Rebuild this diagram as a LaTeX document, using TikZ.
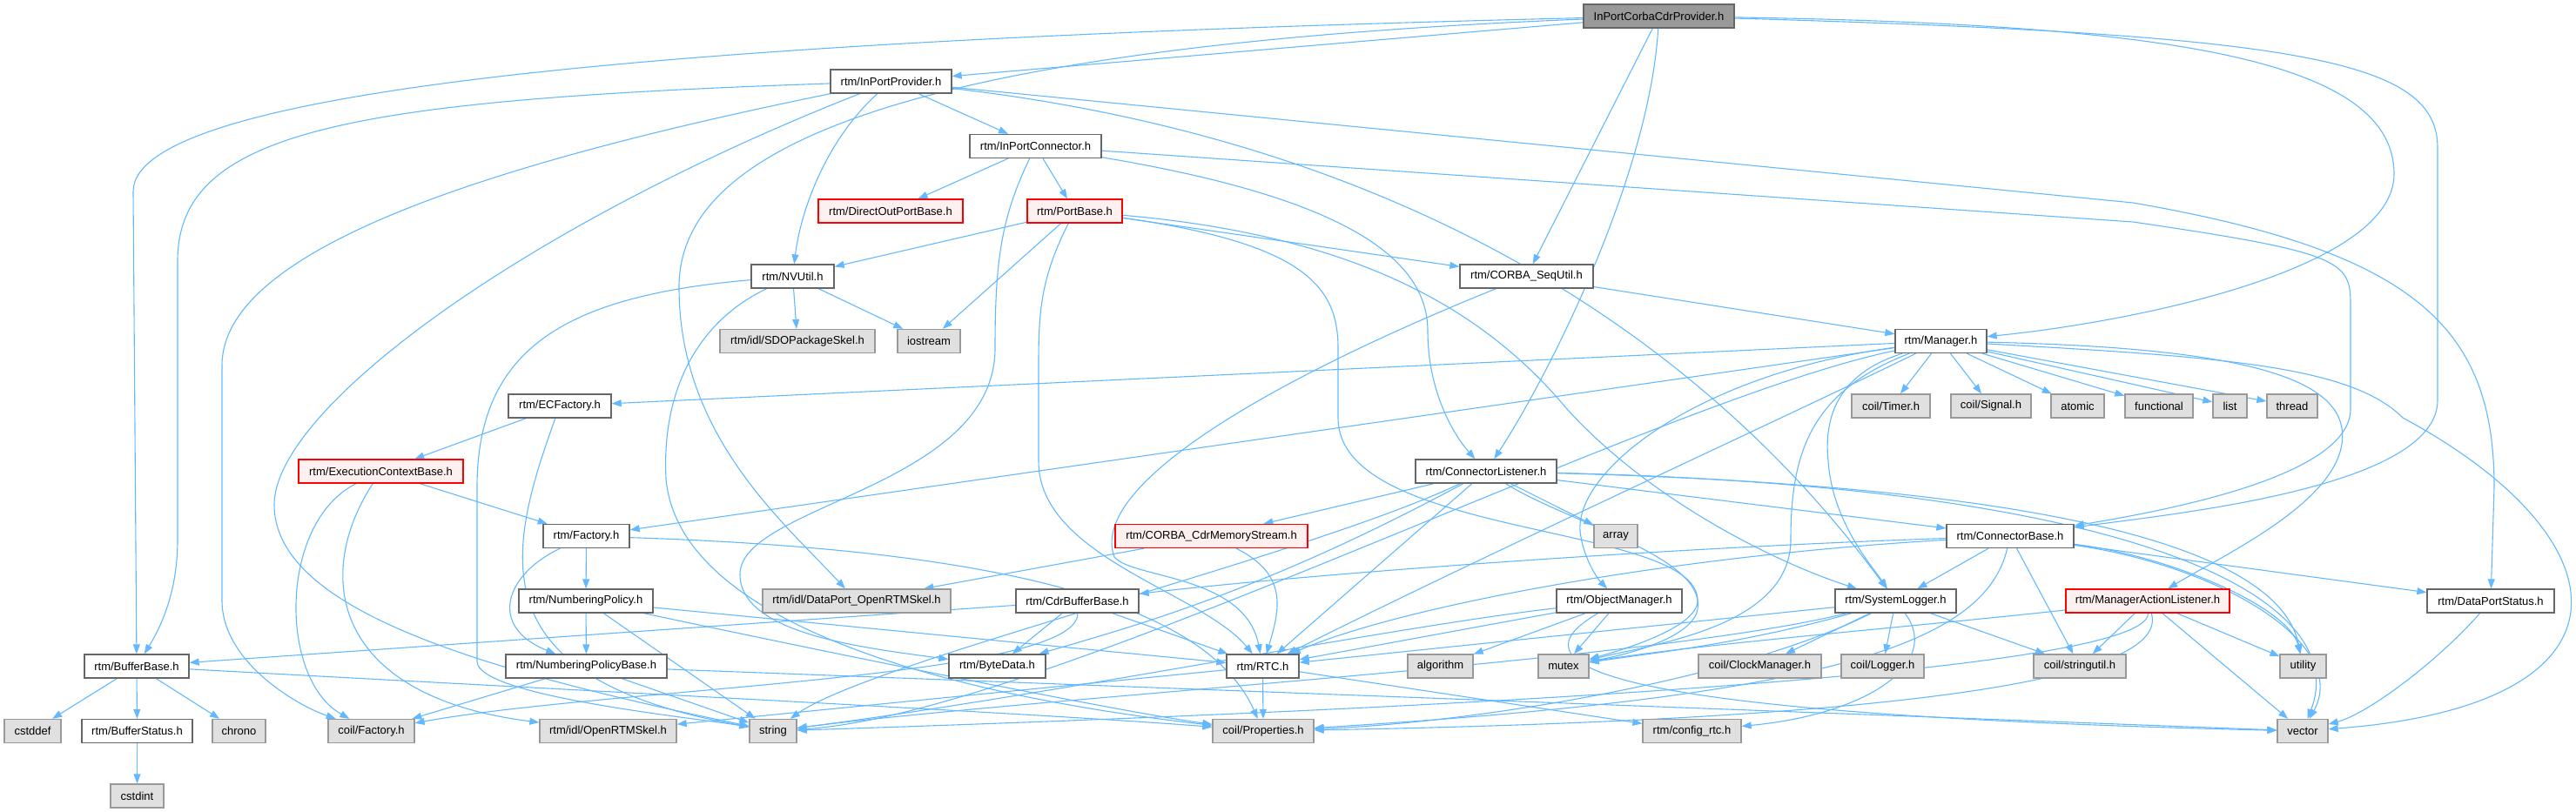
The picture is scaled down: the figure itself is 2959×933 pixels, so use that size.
\documentclass[tikz,border=0pt]{standalone}
\usepackage{fontspec}
\setmainfont{Liberation Sans}
\usepackage{xcolor}
\usepackage{tikz}
\usetikzlibrary{arrows.meta,backgrounds}

\definecolor{edgeblue}{HTML}{63B8FF}
\definecolor{boxgray}{HTML}{666666}
\definecolor{sysfill}{HTML}{E0E0E0}
\definecolor{sysline}{HTML}{999999}
\definecolor{redfill}{HTML}{FFF0F0}

\begin{document}
\begin{tikzpicture}[x=1pt,y=-1pt,
  hdr/.style={draw=boxgray,line width=1.3pt,fill=white,minimum height=27pt,inner sep=0pt,
    font=\fontsize{13}{15}\selectfont},
  rootbox/.style={hdr,fill=sysline},
  sysbox/.style={hdr,draw=sysline,fill=sysfill},
  redbox/.style={hdr,draw=red,fill=redfill},
  dep/.style={draw=edgeblue,line width=1.1pt,-{Triangle[length=11pt,width=8pt]}}]
            \useasboundingbox (0,0) rectangle (2959,933);

            \node[rootbox,minimum width=173pt] at (1905.5,18.5) (root) {InPortCorbaCdrProvider.h};
            \node[hdr,minimum width=139pt] at (1023.5,93.5) (ipp) {rtm/InPortProvider.h};
            \node[hdr,minimum width=151pt] at (1189.5,168) (ipc) {rtm/InPortConnector.h};
            \node[redbox,minimum width=166pt] at (1023,242.5) (dopb) {rtm/DirectOutPortBase.h};
            \node[redbox,minimum width=109pt] at (1234.5,242.5) (pb) {rtm/PortBase.h};
            \node[hdr,minimum width=95pt] at (910.5,317.5) (nvu) {rtm/NVUtil.h};
            \node[sysbox,minimum width=178pt] at (916,392) (sdo) {rtm/idl/SDOPackageSkel.h};
            \node[sysbox,minimum width=72pt] at (1067,392) (ios) {iostream};
            \node[hdr,minimum width=153pt] at (1753.5,317.5) (squ) {rtm/CORBA\_SeqUtil.h};
            \node[hdr,minimum width=105pt] at (2229.5,392) (mgr) {rtm/Manager.h};
            \node[sysbox,minimum width=90pt] at (2172,466.5) (timer) {coil/Timer.h};
            \node[sysbox,minimum width=92pt] at (2287,466.5) (signal) {coil/Signal.h};
            \node[sysbox,minimum width=61pt] at (2386.5,466.5) (atomic) {atomic};
            \node[sysbox,minimum width=78pt] at (2480,466.5) (func) {functional};
            \node[sysbox,minimum width=39pt] at (2561.5,466.5) (list) {list};
            \node[sysbox,minimum width=58pt] at (2633,466.5) (thread) {thread};
            \node[hdr,minimum width=118pt] at (643,466.5) (ecf) {rtm/ECFactory.h};
            \node[redbox,minimum width=189pt] at (437.5,541.5) (ecb) {rtm/ExecutionContextBase.h};
            \node[hdr,minimum width=99pt] at (673.5,616) (fac) {rtm/Factory.h};
            \node[hdr,minimum width=154pt] at (673,690.5) (nump) {rtm/NumberingPolicy.h};
            \node[hdr,minimum width=185pt] at (673.5,765.5) (numpb) {rtm/NumberingPolicyBase.h};
            \node[sysbox,minimum width=216pt] at (984,690.5) (dpskel) {rtm/idl/DataPort\_OpenRTMSkel.h};
            \node[hdr,minimum width=120pt] at (157,765.5) (bufb) {rtm/BufferBase.h};
            \node[sysbox,minimum width=65pt] at (37.5,840) (cstddef) {cstddef};
            \node[hdr,minimum width=127pt] at (157.5,840) (bufst) {rtm/BufferStatus.h};
            \node[sysbox,minimum width=61pt] at (274.5,840) (chrono) {chrono};
            \node[sysbox,minimum width=61pt] at (157.5,914.5) (cstdint) {cstdint};
            \node[sysbox,minimum width=99pt] at (426.5,840) (cfac) {coil/Factory.h};
            \node[sysbox,minimum width=157pt] at (698.5,840) (orskel) {rtm/idl/OpenRTMSkel.h};
            \node[sysbox,minimum width=54pt] at (888,840) (string) {string};
            \node[hdr,minimum width=162pt] at (1707,541.5) (cl) {rtm/ConnectorListener.h};
            \node[redbox,minimum width=221pt] at (1391.5,616) (cdrms) {rtm/CORBA\_CdrMemoryStream.h};
            \node[sysbox,minimum width=50pt] at (1856,616) (array) {array};
            \node[hdr,minimum width=141pt] at (1237.5,690.5) (cdrbb) {rtm/CdrBufferBase.h};
            \node[hdr,minimum width=111pt] at (1145.5,765.5) (bytedata) {rtm/ByteData.h};
            \node[hdr,minimum width=83pt] at (1450.5,765.5) (rtc) {rtm/RTC.h};
            \node[sysbox,minimum width=116pt] at (1451,840) (props) {coil/Properties.h};
            \node[hdr,minimum width=144pt] at (1860,690.5) (objm) {rtm/ObjectManager.h};
            \node[sysbox,minimum width=75pt] at (1654.5,765.5) (algo) {algorithm};
            \node[sysbox,minimum width=58pt] at (1796,765.5) (mutex) {mutex};
            \node[sysbox,minimum width=141pt] at (2021.5,765.5) (clock) {coil/ClockManager.h};
            \node[sysbox,minimum width=95pt] at (2162.5,765.5) (logger) {coil/Logger.h};
            \node[sysbox,minimum width=106pt] at (2389,765.5) (strutil) {coil/stringutil.h};
            \node[sysbox,minimum width=113pt] at (1943.5,840) (config) {rtm/config\_rtc.h};
            \node[hdr,minimum width=146pt] at (2309,616) (cb) {rtm/ConnectorBase.h};
            \node[hdr,minimum width=139pt] at (2177.5,690.5) (syslog) {rtm/SystemLogger.h};
            \node[redbox,minimum width=188pt] at (2467,690.5) (mal) {rtm/ManagerActionListener.h};
            \node[sysbox,minimum width=53pt] at (2645.5,765.5) (utility) {utility};
            \node[sysbox,minimum width=58pt] at (2645,840) (vector) {vector};
            \node[hdr,minimum width=146pt] at (2861,690.5) (dps) {rtm/DataPortStatus.h};

            \begin{scope}[on background layer]
            \draw[dep] (root) -- (ipp);
            \draw[dep] (root) -- (squ);
            \draw[dep] (root) .. controls (800,45) and (153,100) .. (153,220) -- (bufb);
            \draw[dep] (root) .. controls (1000,55) and (780,180) .. (780,330) .. controls (780,500) and (900,600) .. (dpskel);
            \draw[dep] (root) .. controls (1895,200) and (1780,430) .. (cl);
            \draw[dep] (root) .. controls (2500,28) and (2750,70) .. (2750,200) .. controls (2750,310) and (2450,370) .. (mgr);
            \draw[dep] (root) .. controls (2650,40) and (2800,70) .. (2800,170) -- (2800,460) .. controls (2800,560) and (2500,590) .. (cb);

            \draw[dep] (ipp) -- (ipc);
            \draw[dep] (ipp) .. controls (950,160) and (920,240) .. (nvu);
            \draw[dep] (ipp) .. controls (400,115) and (204,150) .. (204,300) -- (204,620) .. controls (204,680) and (185,720) .. (bufb);
            \draw[dep] (ipp) .. controls (500,200) and (255,300) .. (255,420) -- (255,690) .. controls (255,760) and (340,810) .. (cfac);
            \draw[dep] (ipp) .. controls (600,260) and (315,470) .. (315,580) .. controls (315,700) and (550,770) .. (string);
            \draw[dep] (ipp) -- (2450,233) .. controls (2780,290) and (2865,380) .. (2865,560) -- (dps);
            \draw[dep] (ipp) .. controls (1600,160) and (1950,380) .. (syslog);

            \draw[dep] (ipc) -- (dopb);
            \draw[dep] (ipc) -- (pb);
            \draw[dep] (ipc) .. controls (1150,250) and (1143,300) .. (1143,400) .. controls (1143,560) and (850,580) .. (850,660) .. controls (850,730) and (1000,745) .. (bytedata);
            \draw[dep] (ipc) .. controls (1500,220) and (1640,280) .. (1640,380) .. controls (1640,450) and (1670,500) .. (cl);
            \draw[dep] (ipc) -- (2450,255) .. controls (2690,290) and (2700,300) .. (2700,350) -- (2700,470) .. controls (2700,545) and (2500,585) .. (cb);

            \draw[dep] (pb) -- (nvu);
            \draw[dep] (pb) -- (ios);
            \draw[dep] (pb) -- (squ);
            \draw[dep] (pb) .. controls (1195,320) and (1193,360) .. (1193,420) -- (1193,530) .. controls (1193,640) and (1380,680) .. (rtc);
            \draw[dep] (pb) .. controls (1550,270) and (1700,350) .. (1800,470) .. controls (1900,580) and (2050,650) .. (syslog);
            \draw[dep] (pb) .. controls (1500,280) and (1537,330) .. (1537,400) -- (1537,480) .. controls (1537,620) and (1950,600) .. (1950,690) .. controls (1950,720) and (1870,745) .. (mutex);

            \draw[dep] (nvu) -- (sdo);
            \draw[dep] (nvu) -- (ios);
            \draw[dep] (nvu) .. controls (650,340) and (548,400) .. (548,560) -- (548,760) .. controls (548,800) and (800,825) .. (string);
            \draw[dep] (nvu) .. controls (800,370) and (760,450) .. (765,550) .. controls (780,720) and (1100,800) .. (props);

            \draw[dep] (squ) -- (mgr);
            \draw[dep] (squ) .. controls (1450,440) and (1250,560) .. (1280,640) .. controls (1300,665) and (1430,660) .. (rtc);

            \draw[dep] (mgr) -- (ecf);
            \draw[dep] (mgr) -- (fac);
            \draw[dep] (mgr) -- (timer);
            \draw[dep] (mgr) -- (signal);
            \draw[dep] (mgr) -- (atomic);
            \draw[dep] (mgr) -- (func);
            \draw[dep] (mgr) -- (list);
            \draw[dep] (mgr) -- (thread);
            \draw[dep] (mgr) .. controls (1950,430) and (1810,540) .. (1815,610) .. controls (1818,640) and (1835,665) .. (objm);
            \draw[dep] (mgr) .. controls (2110,430) and (2095,480) .. (2100,530) .. controls (2105,600) and (2150,650) .. (syslog);
            \draw[dep] (mgr) .. controls (2600,400) and (2700,440) .. (2690,510) .. controls (2680,580) and (2550,640) .. (mal);
            \draw[dep] (mgr) .. controls (2550,410) and (2700,420) .. (2760,480) .. controls (3020,620) and (3040,810) .. (vector);
            \draw[dep] (mgr) .. controls (2050,480) and (1700,640) .. (rtc);
            \draw[dep] (mgr) .. controls (2080,450) and (2057,520) .. (2057,620) .. controls (2057,720) and (1900,740) .. (mutex);
            \draw[dep] (mgr) .. controls (1900,460) and (1200,820) .. (string);

            \draw[dep] (ecf) -- (ecb);
            \draw[dep] (ecf) .. controls (580,640) and (550,780) .. (string);
            \draw[dep] (ecb) -- (fac);
            \draw[dep] (ecb) .. controls (320,600) and (320,780) .. (cfac);
            \draw[dep] (ecb) .. controls (360,660) and (380,800) .. (orskel);

            \draw[dep] (fac) -- (nump);
            \draw[dep] (fac) .. controls (580,660) and (560,720) .. (numpb);
            \draw[dep] (fac) .. controls (1100,630) and (1380,680) .. (props);
            \draw[dep] (nump) -- (numpb);
            \draw[dep] (nump) -- (string);
            \draw[dep] (nump) -- (rtc);
            \draw[dep] (nump) .. controls (1000,760) and (1300,820) .. (props);
            \draw[dep] (numpb) -- (string);
            \draw[dep] (numpb) -- (cfac);
            \draw[dep] (numpb) -- (vector);

            \draw[dep] (bufb) -- (cstddef);
            \draw[dep] (bufb) -- (bufst);
            \draw[dep] (bufb) -- (chrono);
            \draw[dep] (bufb) .. controls (600,790) and (1200,820) .. (props);
            \draw[dep] (bufst) -- (cstdint);

            \draw[dep] (cdrbb) -- (bufb);
            \draw[dep] (cdrbb) -- (bytedata);
            \draw[dep] (cdrbb) -- (rtc);
            \draw[dep] (cdrbb) .. controls (1240,780) and (700,790) .. (cfac);

            \draw[dep] (rtc) -- (props);
            \draw[dep] (rtc) -- (config);
            \draw[dep] (rtc) -- (orskel);

            \draw[dep] (cl) -- (cdrms);
            \draw[dep] (cl) -- (array);
            \draw[dep] (cl) -- (rtc);
            \draw[dep] (cl) -- (cb);
            \draw[dep] (cl) .. controls (1500,640) and (1000,760) .. (string);
            \draw[dep] (cl) .. controls (1450,680) and (1300,720) .. (bytedata);
            \draw[dep] (cl) .. controls (1800,600) and (1960,640) .. (1950,700) .. controls (1945,730) and (1880,750) .. (mutex);
            \draw[dep] (cl) .. controls (2400,560) and (2620,640) .. (utility);
            \draw[dep] (cl) .. controls (2500,560) and (2700,700) .. (vector);

            \draw[dep] (cdrms) -- (dpskel);
            \draw[dep] (cdrms) .. controls (1480,660) and (1470,700) .. (rtc);

            \draw[dep] (objm) -- (algo);
            \draw[dep] (objm) -- (mutex);
            \draw[dep] (objm) -- (rtc);
            \draw[dep] (objm) .. controls (1740,760) and (1800,820) .. (vector);
            \draw[dep] (objm) .. controls (1600,720) and (1200,800) .. (string);

            \draw[dep] (syslog) -- (clock);
            \draw[dep] (syslog) -- (logger);
            \draw[dep] (syslog) -- (strutil);
            \draw[dep] (syslog) -- (rtc);
            \draw[dep] (syslog) .. controls (2230,760) and (2150,820) .. (config);
            \draw[dep] (syslog) .. controls (2000,740) and (1900,750) .. (mutex);
            \draw[dep] (syslog) .. controls (1900,760) and (1200,800) .. (string);
            \draw[dep] (syslog) .. controls (2000,780) and (1700,830) .. (props);

            \draw[dep] (cb) -- (syslog);
            \draw[dep] (cb) -- (strutil);
            \draw[dep] (cb) -- (dps);
            \draw[dep] (cb) .. controls (1900,630) and (1500,660) .. (cdrbb);
            \draw[dep] (cb) .. controls (1900,640) and (1600,700) .. (rtc);
            \draw[dep] (cb) .. controls (2280,740) and (2100,800) .. (props);
            \draw[dep] (cb) .. controls (2500,640) and (2630,700) .. (utility);
            \draw[dep] (cb) .. controls (2550,650) and (2700,740) .. (vector);

            \draw[dep] (mal) -- (strutil);
            \draw[dep] (mal) -- (utility);
            \draw[dep] (mal) -- (vector);
            \draw[dep] (mal) .. controls (2200,720) and (1950,740) .. (mutex);
            \draw[dep] (mal) .. controls (2470,780) and (1500,820) .. (string);
            \draw[dep] (mal) .. controls (2500,800) and (2000,830) .. (props);

            \draw[dep] (dps) .. controls (2800,760) and (2720,820) .. (vector);
            \end{scope}
        \end{tikzpicture}
\end{document}
